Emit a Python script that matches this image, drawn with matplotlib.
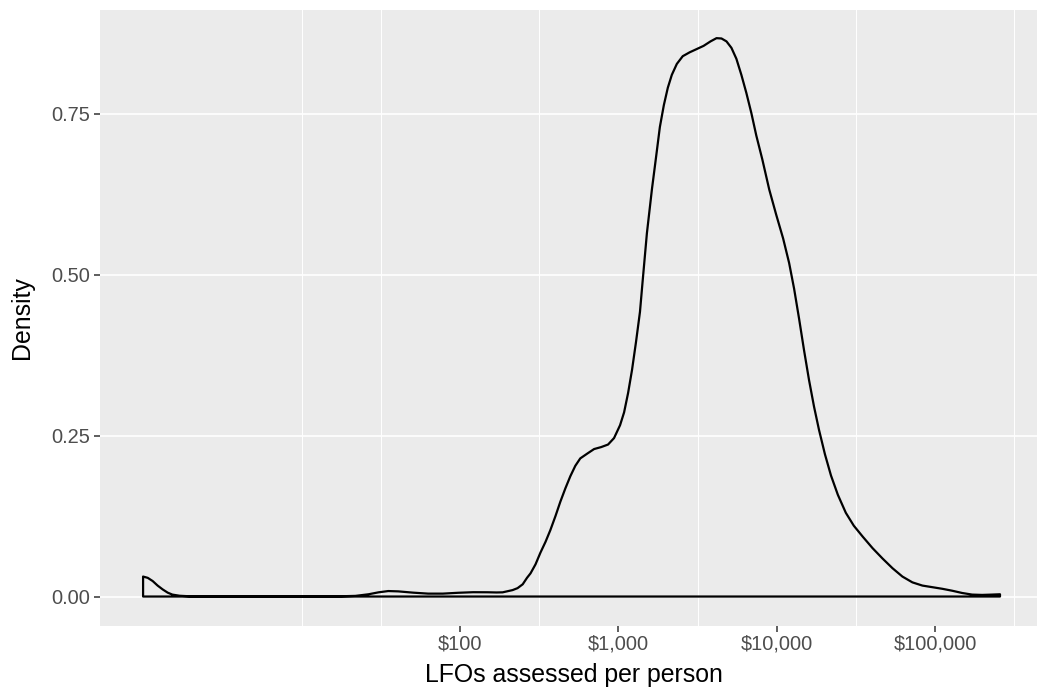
import matplotlib
matplotlib.use("Agg")
import matplotlib.pyplot as plt

plt.rcParams['font.family'] = ['Liberation Sans', 'DejaVu Sans']

# Density curve (x in dollars, log scale)
amount = [1.0, 1.07, 1.15, 1.235, 1.33, 1.43, 1.53, 1.70, 1.96, 4.67, 9.6, 17.1,
          21.9, 26.5, 30.6, 35.3, 40.8, 50.7, 63, 78, 97, 121, 150, 170, 186,
          215, 231, 249, 265, 279, 300, 322, 347, 372, 401, 430, 463, 498, 535,
          575, 637, 703, 778, 861, 939, 1025, 1087, 1152, 1220, 1292, 1369,
          1420, 1514, 1630, 1727, 1828, 1937, 2052, 2175, 2339, 2549, 2818,
          3118, 3450, 3818, 4165, 4477, 4813, 5172, 5559, 5977, 6425, 6906,
          7422, 8099, 8961, 9913, 10966, 11963, 12862, 13836, 14871, 15983,
          17179, 18464, 20131, 21979, 24290, 27278, 30622, 34862, 40270, 46517,
          53733, 62089, 71777, 82990, 95950, 110880, 128040, 147910, 170910,
          197690, 228120, 256450]
density = [0.031, 0.029, 0.024, 0.017, 0.011, 0.006, 0.003, 0.0012, 0.0004,
           0.0001, 0.0001, 0.0003, 0.001, 0.0035, 0.0065, 0.0085, 0.008, 0.006,
           0.0045, 0.0045, 0.0058, 0.0067, 0.0066, 0.0063, 0.0065, 0.010,
           0.013, 0.019, 0.029, 0.036, 0.050, 0.068, 0.085, 0.103, 0.125,
           0.147, 0.168, 0.187, 0.203, 0.2145, 0.222, 0.229, 0.232, 0.236,
           0.246, 0.266, 0.286, 0.316, 0.352, 0.395, 0.442, 0.487, 0.564,
           0.633, 0.681, 0.729, 0.763, 0.790, 0.810, 0.827, 0.839, 0.845,
           0.850, 0.855, 0.862, 0.867, 0.8665, 0.862, 0.852, 0.835, 0.810,
           0.782, 0.751, 0.716, 0.679, 0.632, 0.593, 0.556, 0.518, 0.478,
           0.431, 0.382, 0.336, 0.295, 0.259, 0.221, 0.188, 0.158, 0.130,
           0.110, 0.093, 0.075, 0.059, 0.044, 0.031, 0.022, 0.017, 0.0145,
           0.012, 0.009, 0.0055, 0.003, 0.0025, 0.003, 0.0035]

x_breaks = [100, 1000, 10000, 100000]
x_labels = ["$100", "$1,000", "$10,000", "$100,000"]
x_minor = [10, 10**1.5, 10**2.5, 10**3.5, 10**4.5, 10**5.5]
y_breaks = [0.0, 0.25, 0.50, 0.75]
y_labels = ["0.00", "0.25", "0.50", "0.75"]

W, H = 1037, 689
fig = plt.figure(figsize=(W / 100, H / 100), dpi=100)
fig.patch.set_facecolor("white")

px_left, px_right, px_top, px_bottom = 100, 1048, 9.5, 625.7
ax = fig.add_axes([px_left / W, 1 - px_bottom / H,
                   (px_right - px_left) / W, (px_bottom - px_top) / H])
ax.set_facecolor("#EBEBEB")
for s in ax.spines.values():
    s.set_visible(False)

ax.set_xscale("log")
ax.set_xlim(10 ** -0.272, 10 ** 5.712)
ax.set_ylim(-0.0453, 0.9115)

# grid
for xv in x_minor:
    ax.axvline(xv, color="white", lw=0.7, zorder=0)
for yv in y_breaks:
    ax.axhline(yv, color="white", lw=1.2, zorder=0)

# density outline (closed polygon like geom_density)
poly_x = [amount[0]] + amount + [amount[-1]]
poly_y = [0.0] + density + [0.0]
ax.fill(poly_x, poly_y, facecolor="none", edgecolor="black", lw=1.6,
        joinstyle="round", zorder=3)

ax.set_xticks(x_breaks)
ax.set_xticklabels(x_labels)
ax.xaxis.set_minor_locator(matplotlib.ticker.NullLocator())
ax.set_yticks(y_breaks)
ax.set_yticklabels(y_labels)
ax.tick_params(axis="both", which="major", length=4.0, width=1.1,
               color="#333333", labelcolor="#4D4D4D", labelsize=14.4)
ax.tick_params(axis="x", pad=2.0)
ax.tick_params(axis="y", pad=3.0)

fig.text(574 / W, 1 - 682 / H, "LFOs assessed per person", ha="center",
         va="baseline", fontsize=17.9, color="black")
fig.text(22 / W, 1 - 317.6 / H, "Density", ha="center", va="center",
         rotation=90, fontsize=17.9, color="black")

fig.savefig("out.png", dpi=100)
